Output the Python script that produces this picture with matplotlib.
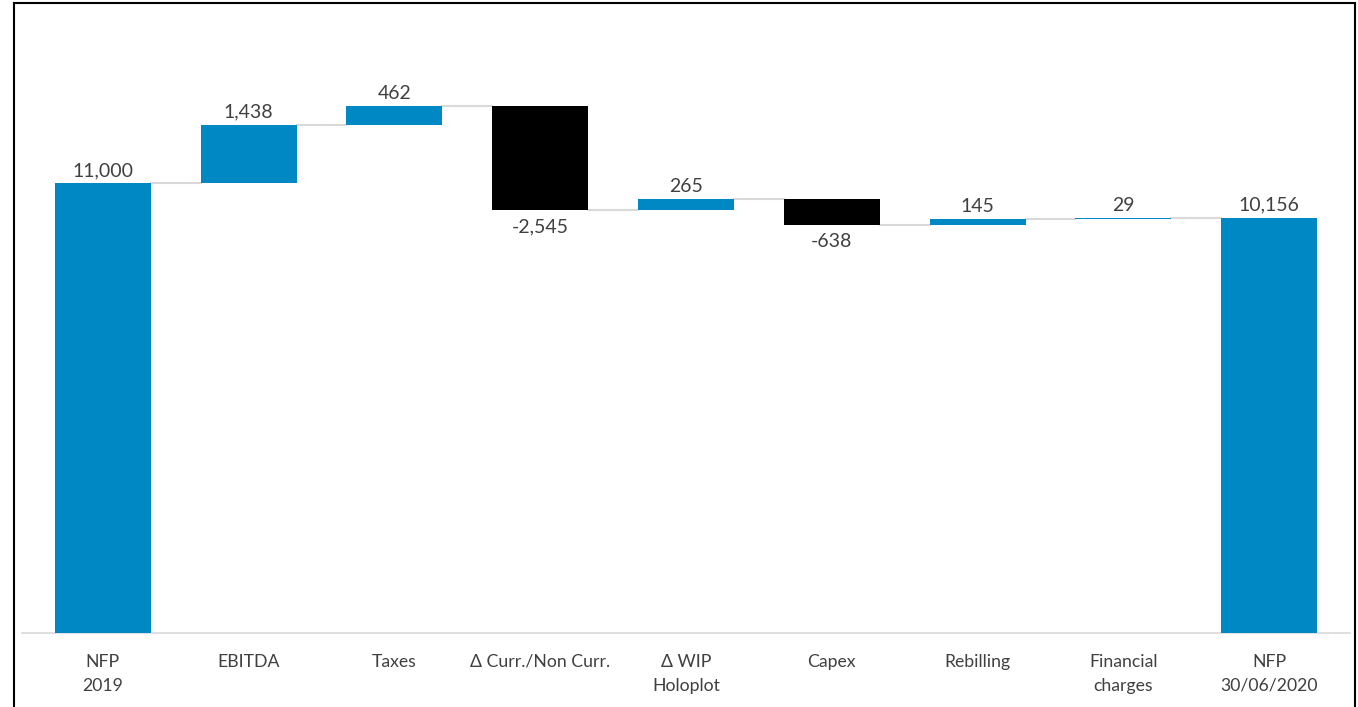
import matplotlib.pyplot as plt
import numpy as np

categories = ['NFP\n2019', 'EBITDA', 'Taxes', 'Δ Curr./Non Curr.', 'Δ WIP\nHoloplot',
              'Capex', 'Rebilling', 'Financial\ncharges', 'NFP\n30/06/2020']
changes = [11000, 1438, 462, -2545, 265, -638, 145, 29]
final_total = 10156

plt.rcParams['font.family'] = ['Lato', 'DejaVu Sans']

blue = '#0088c4'
text_col = '#404040'

# running totals for the waterfall
totals = np.cumsum(changes)
bottoms = []
heights = []
for i, c in enumerate(changes):
    if i == 0:
        bottoms.append(0)
        heights.append(c)
    else:
        start = totals[i - 1]
        bottoms.append(min(start, start + c))
        heights.append(abs(c))
bottoms.append(0)
heights.append(final_total)
values = changes + [final_total]
colors = [blue if v >= 0 else 'black' for v in values]

fig = plt.figure(figsize=(13.58, 7.07), dpi=100)
ax = fig.add_axes([22 / 1358, 1 - 633 / 707, 1328 / 1358, 613 / 707])

x = np.arange(len(categories))
w = 0.658
ax.bar(x, heights, bottom=bottoms, width=w, color=colors, zorder=3)

# connectors
levels = list(totals)
for i in range(len(categories) - 1):
    ax.plot([x[i] + w / 2, x[i + 1] - w / 2], [levels[i], levels[i]],
            color='#d9d9d9', lw=1.5, zorder=2)

# value labels
for i, v in enumerate(values):
    txt = f'{v:,}'
    if v >= 0:
        ax.annotate(txt, (x[i], bottoms[i] + heights[i]), xytext=(0, 3),
                    textcoords='offset points', ha='center', va='bottom',
                    fontsize=14, color=text_col)
    else:
        ax.annotate(txt, (x[i], bottoms[i]), xytext=(0, -6),
                    textcoords='offset points', ha='center', va='top',
                    fontsize=14, color=text_col)

ax.set_xlim(-0.554, len(categories) - 0.446)
ax.set_ylim(0, 15000)
ax.set_xticks(x)
ax.set_xticklabels(categories, fontsize=12.7, color=text_col, linespacing=1.6)
ax.tick_params(axis='x', length=0, pad=15)
ax.set_yticks([])
for s in ['top', 'right', 'left']:
    ax.spines[s].set_visible(False)
ax.spines['bottom'].set_color('#d9d9d9')
ax.spines['bottom'].set_linewidth(1.2)

# outer frame
fig.add_artist(plt.Line2D([14 / 1358, 14 / 1358], [0, 1 - 3 / 707], color='black', lw=1.5))
fig.add_artist(plt.Line2D([14 / 1358, 1355 / 1358], [1 - 3 / 707, 1 - 3 / 707], color='black', lw=1.5))
fig.add_artist(plt.Line2D([1355 / 1358, 1355 / 1358], [0, 1 - 3 / 707], color='black', lw=1.5))

plt.savefig('out.png', dpi=100)
